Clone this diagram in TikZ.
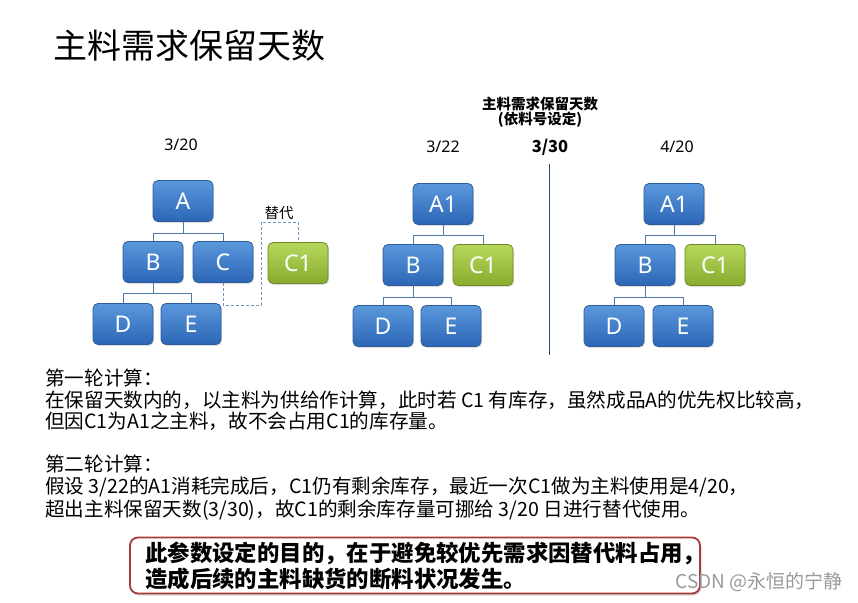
\documentclass[tikz,border=0pt]{standalone}
\usepackage{fontspec}
\setmainfont{Noto Sans}
\newfontfamily\cjk{Noto Sans CJK SC}
\usetikzlibrary{shadows}
\definecolor{bluetop}{HTML}{5A98DC}
\definecolor{bluebot}{HTML}{2C66B6}
\definecolor{blueedge}{HTML}{2D5C9C}
\definecolor{greentop}{HTML}{B6D75C}
\definecolor{greenbot}{HTML}{88AB2E}
\definecolor{greenedge}{HTML}{6D8A26}
\definecolor{connc}{HTML}{5079AA}
\definecolor{rededge}{HTML}{A63A3A}
\definecolor{wmgray}{HTML}{9A9A9A}
\tikzset{
  treebox/.style={rounded corners=5pt, minimum width=60pt, minimum height=41pt,
    text=white, font=\fontsize{23}{23}\selectfont, line width=0.8pt,
    drop shadow={opacity=0.25, shadow xshift=1pt, shadow yshift=-1.5pt}},
  bluebox/.style={treebox, draw=blueedge, top color=bluetop, bottom color=bluebot},
  greenbox/.style={treebox, draw=greenedge, top color=greentop, bottom color=greenbot},
  conn/.style={draw=connc, line width=0.8pt},
  subconn/.style={draw=connc!80, line width=0.9pt, dash pattern=on 3pt off 2pt},
  datelbl/.style={font=\fontsize{16}{16}\selectfont, text=black},
  bodytxt/.style={anchor=west, inner sep=0pt, font=\cjk\fontsize{19.6}{19.6}\selectfont},
  notetxt/.style={anchor=west, inner sep=0pt, font=\cjk\bfseries\fontsize{22.4}{22.4}\selectfont},
  notebox/.style={draw=rededge, line width=1.8pt, rounded corners=8pt, fill=white,
    drop shadow={opacity=0.3, shadow xshift=1.5pt, shadow yshift=-2pt}}
}
\begin{document}
\begin{tikzpicture}[x=1pt,y=-1pt]
\useasboundingbox (0,0) rectangle (858,602);
\fill[white] (0,0) rectangle (858,602);

% heading
\node[anchor=west, inner sep=0pt, font=\cjk\fontsize{34}{34}\selectfont] (head) at (53,46) {主料需求保留天数};

% small title
\node[inner sep=0pt, font=\cjk\bfseries\fontsize{14.5}{14.5}\selectfont] (st1) at (540,104) {主料需求保留天数};
\node[inner sep=0pt, font=\cjk\bfseries\fontsize{14.5}{14.5}\selectfont] (st2) at (540,120) {(依料号设定)};

% dates
\node[datelbl] (d1) at (181,145) {3/20};
\node[datelbl] (d2) at (443,147) {3/22};
\node[datelbl, font=\cjk\bfseries\fontsize{16.5}{16.5}\selectfont] (d3) at (550,147) {3/30};
\node[datelbl] (d4) at (677,147) {4/20};

% divider
\coordinate (vtop) at (549,164);
\coordinate (vbot) at (549,355);
\draw[draw=blueedge!80!black, line width=0.8pt] (vtop) -- (vbot);

% tree 1
\node[bluebox] (A) at (183,201) {A};
\node[bluebox] (B) at (153,262) {B};
\node[bluebox] (C) at (223,262) {C};
\node[greenbox] (C1) at (298,263) {C1};
\node[bluebox] (D) at (123,324) {D};
\node[bluebox] (E) at (191,324) {E};
\draw[conn] (A.south) -- ++(0,11) coordinate (a1);
\draw[conn] (B.north) |- (a1) -| (C.north);
\draw[conn] (B.south) -- ++(0,10) coordinate (b1);
\draw[conn] (D.north) |- (b1) -| (E.north);
\coordinate (s1) at (261,305);
\coordinate (s2) at (261,222);
\draw[subconn] (C.south) |- (s1) -- (s2) -| (C1.north);
\node[inner sep=0pt, font=\cjk\fontsize{14.5}{14.5}\selectfont] (sub) at (279,213) {替代};

% tree 2
\node[bluebox] (A1b) at (443,204) {A1};
\node[bluebox] (Bb) at (413,265) {B};
\node[greenbox] (C1b) at (483,265) {C1};
\node[bluebox] (Db) at (383,326) {D};
\node[bluebox] (Eb) at (451,326) {E};
\draw[conn] (A1b.south) -- ++(0,10) coordinate (a2);
\draw[conn] (Bb.north) |- (a2) -| (C1b.north);
\draw[conn] (Bb.south) -- ++(0,11) coordinate (b2);
\draw[conn] (Db.north) |- (b2) -| (Eb.north);

% tree 3
\node[bluebox] (A1c) at (674,204) {A1};
\node[bluebox] (Bc) at (645,265) {B};
\node[greenbox] (C1c) at (715,265) {C1};
\node[bluebox] (Dc) at (614,326) {D};
\node[bluebox] (Ec) at (683,326) {E};
\draw[conn] (A1c.south) -- ++(0,10) coordinate (a3);
\draw[conn] (Bc.north) |- (a3) -| (C1c.north);
\draw[conn] (Bc.south) -- ++(0,11) coordinate (b3);
\draw[conn] (Dc.north) |- (b3) -| (Ec.north);

% body text
\node[bodytxt] (t1) at (45,378) {第一轮计算：};
\node[bodytxt] (t2) at (45,400) {在保留天数内的，以主料为供给作计算，此时若 C1 有库存，虽然成品A的优先权比较高，};
\node[bodytxt] (t3) at (45,421) {但因C1为A1之主料，故不会占用C1的库存量。};
\node[bodytxt] (t4) at (45,464) {第二轮计算：};
\node[bodytxt] (t5) at (45,487) {假设 3/22的A1消耗完成后，C1仍有剩余库存，最近一次C1做为主料使用是4/20，};
\node[bodytxt] (t6) at (45,510) {超出主料保留天数(3/30)，故C1的剩余库存量可挪给 3/20 日进行替代使用。};

% note box
\node[notebox, minimum width=570pt, minimum height=56pt] (note) at (415,565.5) {};
\node[notetxt] (n1) at (145,553) {此参数设定的目的，在于避免较优先需求因替代料占用，};
\node[notetxt] (n2) at (145,579) {造成后续的主料缺货的断料状况发生。};

% watermark
\node[anchor=east, inner sep=0pt, text=wmgray, font=\cjk\fontsize{19}{19}\selectfont] (wm) at (843,582) {CSDN @永恒的宁静};
\end{tikzpicture}
\end{document}
